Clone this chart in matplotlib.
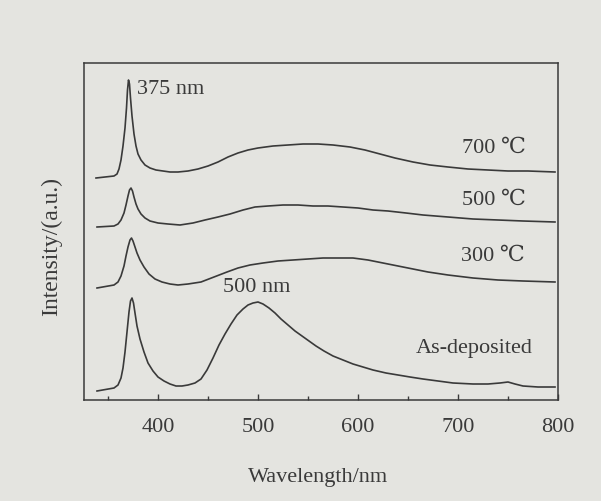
import matplotlib
matplotlib.use('Agg')
import matplotlib.pyplot as plt
from matplotlib.ticker import MultipleLocator

# PL spectra (intensity in arbitrary units, curves offset)
wl_700 = [338, 356, 359, 361, 363, 365, 367, 368.5, 369.5, 370.5, 371.5, 372.5, 374, 376, 378, 380, 383,
          387, 392, 398, 405, 412, 420, 430, 440, 450, 460, 470, 480, 490, 500, 515, 530, 545, 560,
          575, 592, 607, 622, 637, 655, 672, 690, 710, 730, 750, 770, 797]
int_700 = [222, 224, 226, 231, 240, 254, 272, 292, 310, 320, 316, 302, 284, 266, 254, 246, 240,
           235, 232, 230, 229, 228, 228, 229, 231, 234, 238, 243, 247, 250, 252, 254, 255, 256, 256,
           255, 253, 250, 246, 242, 238, 235, 233, 231, 230, 229, 229, 228]

wl_500 = [339, 356, 360, 363, 366, 368, 370, 371.5, 373, 374.5, 376, 378, 380, 383, 387, 392, 400, 410,
          422, 435, 447, 460, 472, 485, 497, 510, 525, 540, 555, 570, 585, 600, 615, 630, 648, 665,
          690, 715, 740, 765, 797]
int_500 = [173, 174, 176, 180, 187, 195, 204, 210, 212, 209, 203, 196, 191, 186, 182, 179, 177, 176,
           175, 177, 180, 183, 186, 190, 193, 194, 195, 195, 194, 194, 193, 192, 190, 189, 187, 185,
           183, 181, 180, 179, 178]

wl_300 = [339, 356, 360, 363, 366, 368, 370, 372, 373.5, 375, 377, 379, 382, 386, 391, 397, 404, 412,
          420, 430, 443, 456, 469, 480, 492, 505, 520, 535, 550, 565, 580, 595, 610, 625, 640, 655,
          670, 690, 715, 740, 765, 797]
int_300 = [112, 115, 118, 124, 134, 144, 153, 160, 162, 159, 153, 147, 140, 133, 126, 121, 118, 116,
           115, 116, 118, 123, 128, 132, 135, 137, 139, 140, 141, 142, 142, 142, 140, 137, 134, 131,
           128, 125, 122, 120, 119, 118]

wl_as = [339, 356, 360, 363, 365, 367, 369, 371, 372.5, 374, 375.5, 377, 379, 382, 386, 390, 395, 400,
         406, 412, 418, 424, 430, 437, 443, 449, 455, 461, 467, 473, 479, 485, 490, 495, 500, 505,
         511, 517, 523, 530, 537, 544, 551, 558, 566, 575, 585, 595, 605, 615, 628, 640, 652, 665,
         680, 695, 715, 730, 742, 750, 757, 765, 780, 797]
int_as = [9, 12, 15, 22, 32, 48, 68, 88, 99, 102, 97, 87, 74, 61, 48, 37, 29, 23,
          19, 16, 14, 14, 15, 17, 21, 30, 42, 55, 66, 76, 85, 91, 95, 97, 98, 96,
          92, 87, 81, 75, 69, 64, 59, 54, 49, 44, 40, 36, 33, 30, 27, 25, 23, 21,
          19, 17, 16, 16, 17, 18, 16, 14, 13, 13]

curves = [(wl_700, int_700), (wl_500, int_500), (wl_300, int_300), (wl_as, int_as)]

paper = '#e4e4e0'
ink = '#3a3a3a'
serif = ['Liberation Serif', 'DejaVu Serif']
fs = 16

fig = plt.figure(figsize=(6.01, 5.02), dpi=100, facecolor=paper)
ax = fig.add_axes([84 / 601, 101 / 502, 474 / 601, 337 / 502], facecolor=paper)

for wl, inten in curves:
    ax.plot(wl, inten, color=ink, linewidth=1.2, solid_joinstyle='round')

ax.set_xlim(326, 800)
ax.set_ylim(0, 337)

# ticks on the bottom only, pointing in
ax.xaxis.set_major_locator(MultipleLocator(100))
ax.xaxis.set_minor_locator(MultipleLocator(50))
ax.tick_params(axis='x', which='both', direction='in', color=ink, width=1.0, top=False,
               labelsize=fs, labelcolor=ink, pad=12)
ax.tick_params(axis='x', which='major', length=4)
ax.tick_params(axis='x', which='minor', length=3)
ax.set_xticks([400, 500, 600, 700, 800])
ax.set_yticks([])
for lab in ax.get_xticklabels():
    lab.set_family(serif)

for s in ax.spines.values():
    s.set_color(ink)
    s.set_linewidth(1.1)

# annotations
ax.text(379, 312, '375 nm', fontsize=fs, family=serif, color=ink, ha='left', va='center')
ax.text(465, 113, '500 nm', fontsize=fs, family=serif, color=ink, ha='left', va='center')
ax.text(768, 253, '700 ℃', fontsize=fs, family=serif, color=ink, ha='right', va='center')
ax.text(768, 201, '500 ℃', fontsize=fs, family=serif, color=ink, ha='right', va='center')
ax.text(767, 145, '300 ℃', fontsize=fs, family=serif, color=ink, ha='right', va='center')
ax.text(775, 53, 'As-deposited', fontsize=fs, family=serif, color=ink, ha='right', va='center')

fig.text(318 / 601, 1 - 478 / 502, 'Wavelength/nm', fontsize=fs, family=serif, color=ink,
         ha='center', va='center')
fig.text(52 / 601, 1 - 246 / 502, 'Intensity/(a.u.)', fontsize=17, family=serif, color=ink,
         ha='center', va='center', rotation=90)

fig.savefig('out.png', dpi=100, facecolor=paper)
